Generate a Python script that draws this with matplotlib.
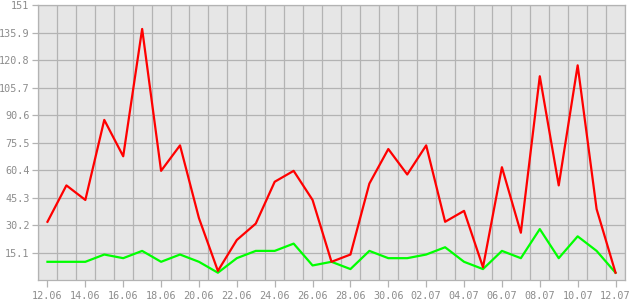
import numpy as np
import matplotlib
matplotlib.use('Agg')
import matplotlib.pyplot as plt

# Dates (one point per day, 12.06 to 12.07)
dates = ['12.06', '13.06', '14.06', '15.06', '16.06', '17.06', '18.06', '19.06',
         '20.06', '21.06', '22.06', '23.06', '24.06', '25.06', '26.06', '27.06',
         '28.06', '29.06', '30.06', '01.07', '02.07', '03.07', '04.07', '05.07',
         '06.07', '07.07', '08.07', '09.07', '10.07', '11.07', '12.07']

red_values = [32, 52, 44, 88, 68, 138, 60, 74, 34, 5, 22, 31, 54, 60, 44, 10,
              14, 53, 72, 58, 74, 32, 38, 7, 62, 26, 112, 52, 118, 39, 4]
green_values = [10, 10, 10, 14, 12, 16, 10, 14, 10, 4, 12, 16, 16, 20, 8, 10,
                6, 16, 12, 12, 14, 18, 10, 6, 16, 12, 28, 12, 24, 16, 4]

y_ticks = [15.1, 30.2, 45.3, 60.4, 75.5, 90.6, 105.7, 120.8, 135.9, 151]
y_labels = ['15.1', '30.2', '45.3', '60.4', '75.5', '90.6', '105.7', '120.8', '135.9', '151']

grid_col = '#b3b3b3'
text_col = '#8c8c8c'

fig = plt.figure(figsize=(6.3, 3.0), dpi=100)
ax = fig.add_axes([38 / 630, 20 / 300, 587 / 630, 274.7 / 300])
ax.set_facecolor('#e6e6e6')

x = np.arange(len(dates))
ax.plot(x, green_values, color='#00ff00', lw=1.6, zorder=3)
ax.plot(x, red_values, color='#ff0000', lw=1.6, zorder=4)

ax.set_xlim(-0.5, len(dates) - 0.5)
ax.set_ylim(0, 151)

# vertical grid at day boundaries, horizontal grid at y ticks
for b in np.arange(-0.5, len(dates), 1.0):
    ax.axvline(b, color=grid_col, lw=0.9, zorder=1)
for t in y_ticks:
    ax.axhline(t, color=grid_col, lw=0.9, zorder=1)

ax.set_xticks(x[::2])
ax.set_xticklabels(dates[::2])
ax.set_yticks(y_ticks)
ax.set_yticklabels(y_labels)

for s in ax.spines.values():
    s.set_color(grid_col)
    s.set_linewidth(0.9)

ax.tick_params(axis='both', colors=grid_col, length=4, width=0.9,
               labelcolor=text_col, labelsize=7.3, pad=2)
ax.tick_params(axis='x', length=5, pad=3)
for lab in ax.get_xticklabels() + ax.get_yticklabels():
    lab.set_family('DejaVu Sans Mono')

fig.savefig('out.png', dpi=100)
